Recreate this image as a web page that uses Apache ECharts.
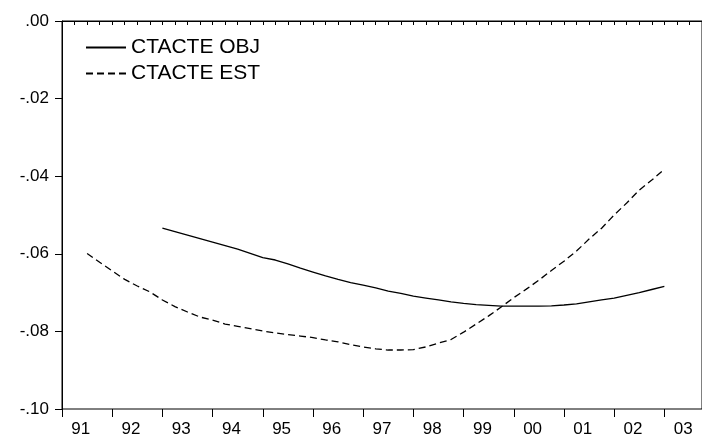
<!DOCTYPE html>
<html>
<head>
<meta charset="utf-8">
<script src="https://cdn.jsdelivr.net/npm/echarts@6/dist/echarts.min.js"></script>
<style>
  html, body { margin: 0; padding: 0; background: #fff; }
  #chart { width: 702px; height: 440px; }
</style>
</head>
<body>
<div id="chart"></div>
<script>
// quarterly series
const estStart = [1991, 3]; // 1991Q3 .. 2003Q1
const estValues = [
  -0.0599, -0.0622, -0.0644, -0.0666, -0.0683, -0.0698, -0.0719, -0.0736,
  -0.0750, -0.0763, -0.0771, -0.0781, -0.0787, -0.0793, -0.0799, -0.0804,
  -0.0808, -0.0812, -0.0816, -0.0822, -0.0827, -0.0834, -0.0840, -0.0845,
  -0.0848, -0.0848, -0.0847, -0.0840, -0.0830, -0.0821, -0.0802, -0.0781,
  -0.0760, -0.0737, -0.0713, -0.0691, -0.0668, -0.0643, -0.0619, -0.0593,
  -0.0562, -0.0534, -0.0500, -0.0469, -0.0436, -0.0410, -0.0382
];
const objStart = [1993, 1]; // 1993Q1 .. 2003Q1
const objValues = [
  -0.0534, -0.0543, -0.0552, -0.0561, -0.0570, -0.0579, -0.0588, -0.0599,
  -0.0610, -0.0616, -0.0626, -0.0637, -0.0647, -0.0657, -0.0666, -0.0674,
  -0.0681, -0.0688, -0.0696, -0.0702, -0.0709, -0.0714, -0.0719, -0.0724,
  -0.0728, -0.0731, -0.0733, -0.0735, -0.0735, -0.0735, -0.0735, -0.0734,
  -0.0732, -0.0729, -0.0724, -0.0719, -0.0714, -0.0707, -0.0700, -0.0692,
  -0.0684
];
const years = [1991, 1992, 1993, 1994, 1995, 1996, 1997, 1998, 1999, 2000, 2001, 2002, 2003];
const yTicks = [-0.10, -0.08, -0.06, -0.04, -0.02, 0.00];

const xMin = 1991;
const xMax = 2003.75;
const font = "'Liberation Sans', Arial, sans-serif";

// quarter -> decimal year
function toPairs(start, values) {
  return values.map((v, i) => {
    const q = start[1] - 1 + i;
    return [start[0] + q / 4, v];
  });
}

const chart = echarts.init(document.getElementById("chart"), null, { renderer: "canvas" });

const option = {
  animation: false,
  backgroundColor: "#fff",
  textStyle: { fontFamily: font, color: "#000" },
  grid: {
    left: 62, right: -4, top: 21, bottom: 31,
    show: true, borderColor: "#000", borderWidth: 1
  },
  legend: {
    orient: "vertical",
    left: 80, top: 32,
    itemWidth: 40, itemHeight: 14, itemGap: 5,
    itemStyle: { opacity: 0 },
    textStyle: { fontFamily: font, fontSize: 21, color: "#000" },
    data: ["CTACTE OBJ", "CTACTE EST"]
  },
  xAxis: [
    {
      // quarter ticks
      type: "value", position: "bottom",
      min: xMin, max: xMax, interval: 0.25,
      axisLine: { show: true, lineStyle: { color: "#000", width: 1 } },
      axisTick: { show: true, length: 4, lineStyle: { color: "#000", width: 1 } },
      axisLabel: { show: false },
      splitLine: { show: false }
    },
    {
      // year ticks and labels
      type: "value", position: "bottom",
      min: xMin, max: xMax, interval: 1,
      axisLine: { show: false },
      axisTick: { show: true, length: 8, lineStyle: { color: "#000", width: 1 } },
      axisLabel: {
        show: true,
        customValues: years.map(y => y + 0.375),
        margin: 12,
        fontSize: 17, fontFamily: font, color: "#000",
        formatter: v => String(Math.floor(v) % 100).padStart(2, "0")
      },
      splitLine: { show: false }
    }
  ],
  yAxis: {
    type: "value",
    min: yTicks[0], max: yTicks[yTicks.length - 1], interval: 0.02,
    axisLine: { show: true, lineStyle: { color: "#000", width: 1 } },
    axisTick: { show: true, length: 7, lineStyle: { color: "#000", width: 1 } },
    axisLabel: {
      margin: 13, fontSize: 17, fontFamily: font, color: "#000",
      formatter: v => v.toFixed(2).replace("0.", ".")
    },
    splitLine: { show: false }
  },
  series: [
    {
      name: "CTACTE OBJ",
      type: "line",
      xAxisIndex: 0,
      symbol: "none",
      lineStyle: { color: "#000", width: 1.3, type: "solid" },
      itemStyle: { color: "#000" },
      data: toPairs(objStart, objValues)
    },
    {
      name: "CTACTE EST",
      type: "line",
      xAxisIndex: 0,
      symbol: "none",
      lineStyle: { color: "#000", width: 1.3, type: [7, 4] },
      itemStyle: { color: "#000" },
      data: toPairs(estStart, estValues)
    }
  ]
};

chart.setOption(option);
</script>
</body>
</html>
